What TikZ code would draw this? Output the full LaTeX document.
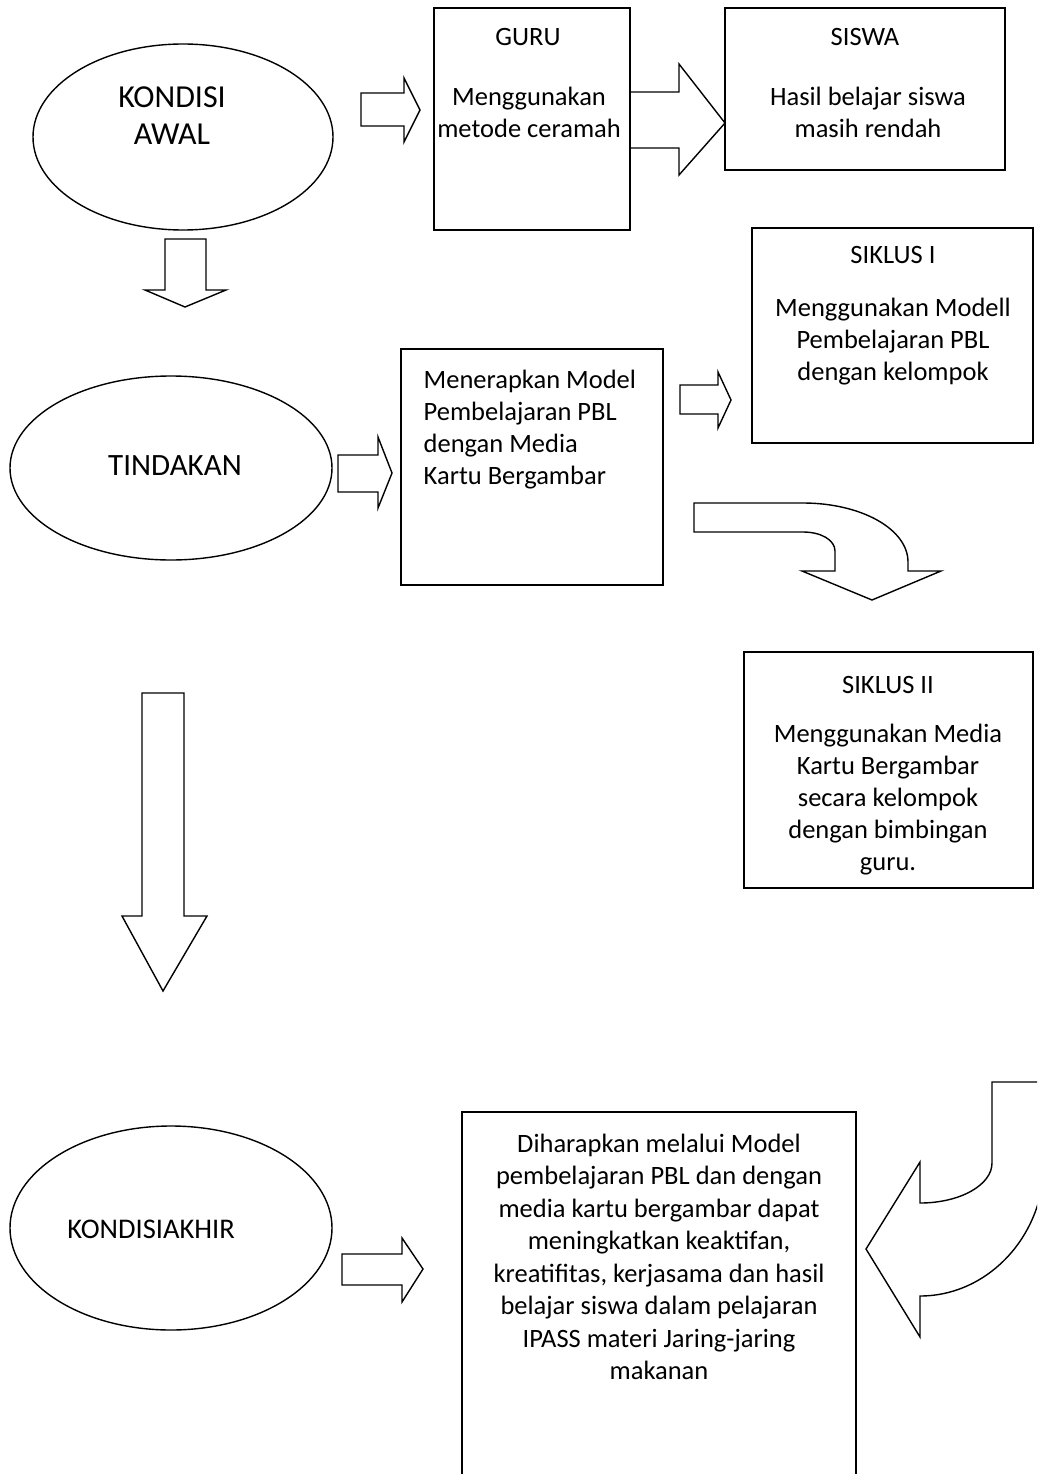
\documentclass[tikz,border=0pt]{standalone}
\usepackage{fontspec}
\setmainfont{Carlito}
\usetikzlibrary{shapes.geometric}
\begin{document}
\begin{tikzpicture}[x=1pt,y=-1pt,line width=1.4pt,line join=miter,
  boxnode/.style={draw,fill=white,rectangle,inner sep=0pt},
  ellnode/.style={draw,fill=white,ellipse,inner sep=0pt},
  blk/.style={draw,fill=white},
  body/.style={align=center,inner sep=0pt,font=\fontsize{26.5}{32}\selectfont},
  bigtxt/.style={align=center,inner sep=0pt,font=\fontsize{32}{37}\selectfont}]
\useasboundingbox (0,0) rectangle (1037,1474);
\clip (0,0) rectangle (1037,1474);
\fill[white] (0,0) rectangle (1037,1474);

% ---- top row
\node[ellnode,minimum width=300pt,minimum height=186pt] (awal) at (183,137) {};
\node[bigtxt] (awaltxt) at (172,116) {KONDISI\\AWAL};

\draw[blk] (361,93) -- (404,93) -- (404,78) -- (420,110) -- (404,142) -- (404,126) -- (361,126) -- cycle;

\draw[blk] (600,92) -- (679,92) -- (679,64) -- (725,123) -- (679,175) -- (679,148) -- (600,148) -- cycle;
\node[boxnode,minimum width=196pt,minimum height=222pt] (guru) at (532,119) {};
\node[body] (gurut) at (528,37) {GURU};
\node[body] (gurub) at (529,112.5) {Menggunakan\\metode ceramah};

\node[boxnode,minimum width=280pt,minimum height=162pt] (siswa) at (865,89) {};
\node[body] (siswat) at (865,37) {SISWA};
\node[body] (siswab) at (868,112) {Hasil belajar siswa\\masih rendah};

\draw[blk] (165,239) -- (206,239) -- (206,290) -- (226,290) -- (185,307) -- (145,290) -- (165,290) -- cycle;

% ---- second row
\node[ellnode,minimum width=322pt,minimum height=184pt] (tindakan) at (171,468) {};
\node[bigtxt,font=\fontsize{31}{37}\selectfont] (tindakant) at (175,466) {TINDAKAN};

\draw[blk] (338,455) -- (378,455) -- (378,437) -- (392,473) -- (378,508) -- (378,492) -- (338,492) -- cycle;

\node[boxnode,minimum width=262pt,minimum height=236pt] (terap) at (532,467) {};
\node[body,align=left,anchor=west] (terapt) at (423,429.5) {Menerapkan Model\\Pembelajaran PBL\\dengan Media\\Kartu Bergambar};

\draw[blk] (680,385) -- (718,385) -- (718,372) -- (731,400) -- (718,428) -- (718,414) -- (680,414) -- cycle;

\node[boxnode,minimum width=281pt,minimum height=215pt] (siklus1) at (892.5,335.5) {};
\node[body] (s1t) at (893,255) {SIKLUS I};
\node[body] (s1b) at (893,341.5) {Menggunakan Modell\\Pembelajaran PBL\\dengan kelompok};

\draw[blk] (694,503) -- (803,503) .. controls (861,503) and (908,529) .. (908,562)
  -- (908,571) -- (941,571) -- (872,600) -- (802,571) -- (835,571) -- (835,551)
  .. controls (835,540) and (821,532) .. (803,532) -- (694,532) -- cycle;

\node[boxnode,minimum width=289pt,minimum height=236pt] (siklus2) at (888.5,770) {};
\node[body] (s2t) at (888,685) {SIKLUS II};
\node[body] (s2b) at (888,800) {Menggunakan Media\\Kartu Bergambar\\secara kelompok\\dengan bimbingan\\guru.};

% ---- long arrow
\draw[blk] (142,693) -- (184,693) -- (184,916) -- (207,916) -- (163,991) -- (122,916) -- (142,916) -- cycle;

% ---- bottom row
\node[ellnode,minimum width=322pt,minimum height=204pt] (akhir) at (171,1228) {};
\node[body,font=\fontsize{28.5}{32}\selectfont] (akhirt) at (151,1229) {KONDISIAKHIR};

\draw[blk] (342,1254) -- (402,1254) -- (402,1238) -- (423,1269) -- (402,1302) -- (402,1285) -- (342,1285) -- cycle;

\node[boxnode,minimum width=394pt,minimum height=380pt] (harap) at (659,1302) {};
\node[body,font=\fontsize{26.5}{32.5}\selectfont] (harapt) at (659,1257) {Diharapkan melalui Model\\pembelajaran PBL dan dengan\\media kartu bergambar dapat\\meningkatkan keaktifan,\\kreatifitas, kerjasama dan hasil\\belajar siswa dalam pelajaran\\IPASS materi Jaring-jaring\\makanan};

\draw[blk] (992,1082) -- (992,1163) .. controls (992,1185) and (960,1203) .. (920,1203)
  -- (920,1162) -- (866,1249) -- (920,1337) -- (920,1296)
  .. controls (988,1296) and (1044,1236) .. (1044,1163) -- (1044,1082) -- cycle;
\end{tikzpicture}
\end{document}
